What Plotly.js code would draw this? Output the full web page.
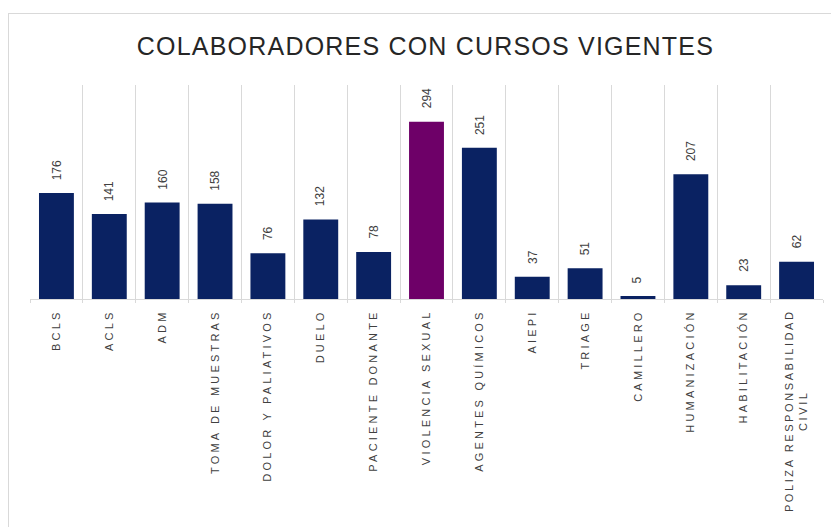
<!DOCTYPE html>
<html>
<head>
<meta charset="utf-8">
<script src="https://cdn.plot.ly/plotly-3.0.1.min.js"></script>
<style>
  html, body { margin: 0; padding: 0; background: #ffffff; }
  #wrap { position: relative; width: 831px; height: 527px; overflow: hidden; }
  #chart { position: absolute; left: 0; top: 0; width: 831px; height: 527px; }
  #frame { position: absolute; left: 8px; top: 13px; width: 900px; height: 600px;
           border-left: 1px solid #d9d9d9; border-top: 1px solid #d9d9d9; pointer-events: none; }
  .xtick text { letter-spacing: 3.2px; }
  .xtick.lastcat text { letter-spacing: 2.6px; }
  .gtitle { letter-spacing: 1.2px; }
</style>
</head>
<body>
<div id="wrap">
  <div id="chart"></div>
  <div id="frame"></div>
</div>
<script>
const categories = ["BCLS", "ACLS", "ADM", "TOMA DE MUESTRAS", "DOLOR Y PALIATIVOS", "DUELO",
  "PACIENTE DONANTE", "VIOLENCIA SEXUAL", "AGENTES QUÍMICOS", "AIEPI", "TRIAGE", "CAMILLERO",
  "HUMANIZACIÓN", "HABILITACIÓN", "POLIZA RESPONSABILIDAD<br>CIVIL"];
const values = [176, 141, 160, 158, 76, 132, 78, 294, 251, 37, 51, 5, 207, 23, 62];
const highlight = "VIOLENCIA SEXUAL";
const titleText = "COLABORADORES CON CURSOS VIGENTES";

const navy = "#0a2262";
const purple = "#6e0068";
const colors = categories.map(c => c === highlight ? purple : navy);

const trace = {
  type: "bar",
  x: categories,
  y: values,
  marker: { color: colors },
  hoverinfo: "x+y"
};

const annotations = categories.map((c, i) => ({
  x: c, y: values[i], xref: "x", yref: "y",
  text: String(values[i]), textangle: -90,
  showarrow: false, xanchor: "center", yanchor: "bottom", yshift: 11,
  font: { family: "Liberation Sans, Arial, sans-serif", size: 12, color: "#404040" }
}));

const layout = {
  width: 831, height: 527,
  margin: { l: 30, r: 8, t: 85, b: 228 },
  paper_bgcolor: "rgba(0,0,0,0)",
  plot_bgcolor: "rgba(0,0,0,0)",
  showlegend: false,
  bargap: 0.34,
  title: {
    text: titleText,
    x: 0.512, xanchor: "center", y: 0.912, yanchor: "middle",
    font: { family: "Liberation Sans, Arial, sans-serif", size: 25, color: "#262626" }
  },
  xaxis: {
    type: "category",
    tickson: "boundaries",
    showgrid: true, gridcolor: "#d9d9d9", gridwidth: 1,
    showline: true, linecolor: "#d9d9d9", linewidth: 1,
    ticks: "outside", ticklen: 3, tickcolor: "#d9d9d9",
    tickangle: -90,
    ticklabelstandoff: 5,
    tickfont: { family: "Liberation Sans, Arial, sans-serif", size: 11, color: "#404040" },
    zeroline: false
  },
  yaxis: {
    range: [0, 355],
    showgrid: false, showticklabels: false, zeroline: false, showline: false, ticks: ""
  },
  annotations: annotations
};

function centerSecondLines(gd) {
  const ticks = gd.querySelectorAll(".xaxislayer-above .xtick");
  ticks.forEach(t => {
    const lines = t.querySelectorAll("tspan.line");
    if (lines.length < 2) return;
    t.classList.add("lastcat");
    const first = lines[0];
    const L1 = first.getComputedTextLength();
    for (let k = 1; k < lines.length; k++) {
      const ln = lines[k];
      const x0 = parseFloat(ln.getAttribute("x") || first.getAttribute("x") || "0");
      ln.setAttribute("x", String(x0 - L1 / 2));
      ln.style.textAnchor = "middle";
    }
  });
}

Plotly.newPlot("chart", [trace], layout, { displayModeBar: false, staticPlot: true })
  .then(gd => { centerSecondLines(gd); });
</script>
</body>
</html>
